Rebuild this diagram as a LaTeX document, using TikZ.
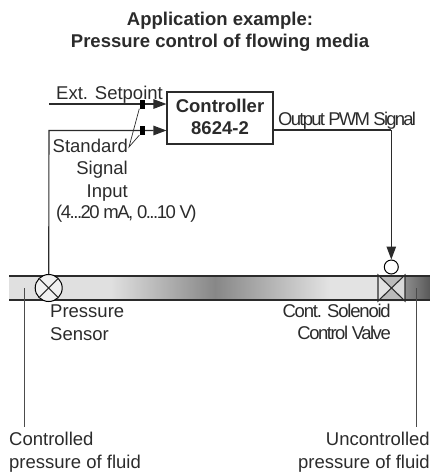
\documentclass[tikz,border=0pt]{standalone}
\usepackage{fontspec}
\setmainfont{Liberation Sans}
\usetikzlibrary{arrows.meta}
\definecolor{ink}{gray}{0.17}
\newcommand{\lblsize}{\fontsize{18.5}{22}\selectfont}
\tikzset{
  lbl/.style={inner sep=0pt,font=\lblsize,text=ink},
  tightA/.style={inner sep=0pt,text=ink,font=\lblsize\addfontfeatures{LetterSpace=-9.5}},
  tightB/.style={inner sep=0pt,text=ink,font=\lblsize\addfontfeatures{LetterSpace=-8}},
  tightC/.style={inner sep=0pt,text=ink,font=\lblsize\addfontfeatures{LetterSpace=-6.5}},
  wire/.style={draw=ink,line width=1.1pt},
  thin wire/.style={draw=ink,line width=0.7pt},
  sig/.style={wire,-{Triangle[length=13pt,width=9.5pt]}},
  tick/.style={fill=black,minimum width=5pt,minimum height=9pt,inner sep=0pt},
}
\begin{document}
\begin{tikzpicture}[x=1pt,y=-1pt]
\useasboundingbox (0,0) rectangle (430,472);
% title
\node[font=\bfseries\fontsize{18.5}{22}\selectfont,text=ink,align=center,inner sep=0pt,anchor=base] (title) at (220,47) {Application example:\\Pressure control of flowing media};
% pipe
\fill[black!12] (9,276) rectangle (110,300);
\shade[left color=black!12,right color=black!47] (110,276) rectangle (215,300);
\shade[left color=black!47,right color=black!11] (215,276) rectangle (330,300);
\fill[black!11] (330,276) rectangle (379,300);
\fill[black!11] (378,275) -- (391.5,288) -- (378,301) -- cycle;
\fill[black!27] (378,275) -- (391.5,288) -- (405,275) -- cycle;
\fill[black!27] (378,301) -- (391.5,288) -- (405,301) -- cycle;
\fill[black!15] (405,275) -- (391.5,288) -- (405,301) -- cycle;
\shade[left color=black!45,right color=black!65] (405,276) rectangle (430,300);
\draw[wire] (9,276) -- (430,276) (9,300) -- (430,300);
% sensor
\node[circle,draw=black,line width=1pt,fill=black!6,minimum size=27pt,inner sep=0pt] (sensor) at (48.7,288) {};
\draw[wire] (sensor.north west) -- (sensor.south east) (sensor.north east) -- (sensor.south west);
% valve
\coordinate (vtl) at (378,275); \coordinate (vbl) at (378,301);
\coordinate (vtr) at (405,275); \coordinate (vbr) at (405,301);
\draw[wire,line join=miter] (vtl) -- (vbl) -- (vtr) -- (vbr) -- (vtl) -- cycle;
\node[circle,draw=black,line width=1pt,fill=white,minimum size=14pt,inner sep=0pt] (act) at (391.3,267) {};
% controller
\node[draw=ink,line width=1.1pt,fill=white,minimum width=106pt,minimum height=52pt,inner sep=0pt] (ctrl) at (220,118) {};
\node[font=\bfseries\lblsize,text=ink,align=center,inner sep=0pt,anchor=base] (ctrltext) at (220,134) {Controller\\8624-2};
% inputs
\coordinate (ext) at (49,104);
\coordinate (stdc) at (49,130.5);
\coordinate (ctrlA) at (ctrl.west |- ext);
\coordinate (ctrlB) at (ctrl.west |- stdc);
\draw[sig] (ext) -- (ctrlA);
\draw[sig] (sensor.north) -- (stdc) -- (ctrlB);
\node[tick] (t1) at (142,104) {};
\node[tick] (t2) at (142,130.5) {};
\coordinate (lead) at (129,147);
\draw[thin wire] (t1.south west) -- (lead) -- (t2.south west);
% output
\coordinate (outc) at (391.3,130);
\coordinate (outs) at (ctrl.east |- outc);
\draw[wire] (outs) -- (outc);
\draw[sig] (outc) -- (act.north);
% labels
\node[lbl,anchor=base west] (l1) at (56,99) {Ext. Setpoint};
\node[lbl,anchor=base east] (l2) at (128,152) {Standard};
\node[lbl,anchor=base east] (l3) at (128,174) {Signal};
\node[lbl,anchor=base east] (l4) at (128,197) {Input};
\node[tightB,anchor=base west] (l5) at (56,218) {(4...20 mA, 0...10 V)};
\node[tightA,anchor=base west] (l6) at (278,125) {Output PWM Signal};
\node[lbl,anchor=base west] (l7) at (50,317) {Pressure};
\node[lbl,anchor=base west] (l8) at (50,340) {Sensor};
\node[tightC,anchor=base east] (l9) at (391,317) {Cont. Solenoid};
\node[tightB,anchor=base east] (l10) at (391,339) {Control Valve};
\node[lbl,anchor=base west] (l11) at (9,445) {Controlled};
\node[lbl,anchor=base west] (l12) at (9,468) {pressure of fluid};
\node[lbl,anchor=base east] (l13) at (430,445) {Uncontrolled};
\node[lbl,anchor=base east] (l14) at (430,468) {pressure of fluid};
% leaders
\coordinate (cl1) at (24,288); \coordinate (cl2) at (24,427);
\coordinate (ul1) at (416,288); \coordinate (ul2) at (416,427);
\draw[draw=black!70,line width=0.8pt] (cl1) -- (cl2) (ul1) -- (ul2);
\end{tikzpicture}
\end{document}
